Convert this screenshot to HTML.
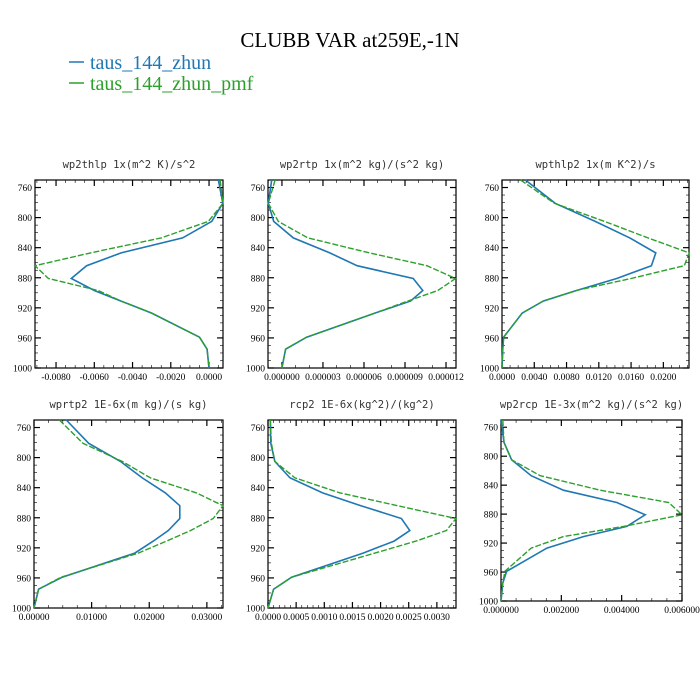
<!DOCTYPE html>
<html><head><meta charset="utf-8">
<style>
body{margin:0;background:#fff;}
svg{display:block;}
.tl{font-family:"Liberation Serif",serif;font-size:9.5px;fill:#000;}
.pt{font-family:"DejaVu Sans Mono","Liberation Mono",monospace;font-size:10.5px;fill:#333;}
</style></head><body>
<svg id="chart" width="700" height="700" viewBox="0 0 700 700" xmlns="http://www.w3.org/2000/svg">
<rect width="700" height="700" fill="#fff"/>
<text x="350" y="47" text-anchor="middle" font-family="Liberation Serif, serif" font-size="21">CLUBB VAR at259E,-1N</text>
<g>
<line x1="69" y1="62" x2="84" y2="62" stroke="#1f77b4" stroke-width="1.5"/>
<text x="90" y="69" font-family="Liberation Serif, serif" font-size="20" fill="#1f77b4">taus_144_zhun</text>
<line x1="69" y1="83" x2="84" y2="83" stroke="#2ca02c" stroke-width="1.5"/>
<text x="90" y="90" font-family="Liberation Serif, serif" font-size="20" fill="#2ca02c">taus_144_zhun_pmf</text>
</g>
</svg>
<script>
const levels = [750,781,805,827,847,864,881,897,911,927,959,975,1000];
const titles = ["wp2thlp  1x(m^2 K)/s^2","wp2rtp  1x(m^2 kg)/(s^2 kg)","wpthlp2  1x(m K^2)/s","wprtp2  1E-6x(m kg)/(s kg)","rcp2  1E-6x(kg^2)/(kg^2)","wp2rcp  1E-3x(m^2 kg)/(s^2 kg)"];
const blueWp2thlp = [0.00049,0.00072,0.00014,-0.00138,-0.0046,-0.0064,-0.0072,-0.0060,-0.0046,-0.0030,-0.0005,-0.0001,0.0];
const greenWp2thlp = [0.00058,0.00073,-0.00004,-0.0025,-0.0062,-0.0091,-0.0084,-0.0058,-0.0046,-0.0030,-0.0005,-0.0001,0.0];
const blueWp2rtp = [-0.75e-6,-1.0e-6,-0.6e-6,0.83e-6,3.5e-6,5.5e-6,9.6e-6,10.3e-6,9.4e-6,6.8e-6,1.8e-6,0.27e-6,0];
const greenWp2rtp = [-0.5e-6,-1.0e-6,-0.27e-6,1.9e-6,6.4e-6,10.6e-6,12.7e-6,11.4e-6,9.2e-6,6.8e-6,1.8e-6,0.27e-6,0];
const blueWpthlp2 = [0.0029,0.0066,0.01155,0.01584,0.01906,0.01852,0.01422,0.00924,0.00511,0.0025,0.0002,0.0001,0];
const greenWpthlp2 = [0.0023,0.0065,0.0127,0.0181,0.0232,0.0226,0.0160,0.0092,0.0051,0.0025,0.0002,0.0001,0];
const blueWprtp2 = [0.0056,0.0095,0.0150,0.0188,0.0228,0.0253,0.0253,0.0233,0.0207,0.0175,0.0049,0.0008,0];
const greenWprtp2 = [0.0044,0.0085,0.0153,0.0202,0.0282,0.0328,0.0311,0.0272,0.0230,0.0181,0.0047,0.0008,0];
const blueRcp2 = [0.00004,0.00005,0.00012,0.00039,0.00097,0.00165,0.00237,0.00252,0.00224,0.00169,0.00042,0.0001,0];
const greenRcp2 = [0.00004,0.00006,0.00012,0.00048,0.00128,0.0023,0.00334,0.00317,0.00263,0.0019,0.00042,0.0001,0];
const blueWp2rcp = [0.0,0.0001,0.00035,0.0010,0.00207,0.00384,0.00478,0.00417,0.00273,0.00152,0.00019,0.00006,0];
const greenWp2rcp = [0.00006,0.0001,0.00035,0.0013,0.00329,0.00556,0.0060,0.00406,0.00207,0.0010,0.00013,0.00006,0];
const xTicks = [[-0.008,-0.006,-0.004,-0.002,0],[0,3e-6,6e-6,9e-6,12e-6],[0,0.004,0.008,0.012,0.016,0.02],[0,0.01,0.02,0.03],[0,0.0005,0.001,0.0015,0.002,0.0025,0.003],[0,0.002,0.004,0.006]];
const xTickLabels = [["-0.0080","-0.0060","-0.0040","-0.0020","0.0000"],["0.000000","0.000003","0.000006","0.000009","0.000012"],["0.0000","0.0040","0.0080","0.0120","0.0160","0.0200"],["0.00000","0.01000","0.02000","0.03000"],["0.0000","0.0005","0.0010","0.0015","0.0020","0.0025","0.0030"],["0.000000","0.002000","0.004000","0.006000"]];
const yTicks = [760,800,840,880,920,960,1000];
const panels = [
 {name:"wp2thlp",x0:35,x1:223,y0:180,y1:368,d0:-0.0091,d1:0.00073,minor:0.0005,b:blueWp2thlp,g:greenWp2thlp},
 {name:"wp2rtp",x0:268,x1:456,y0:180,y1:368,d0:-1.02e-6,d1:12.73e-6,minor:1e-6,b:blueWp2rtp,g:greenWp2rtp},
 {name:"wpthlp2",x0:502,x1:689,y0:180,y1:368,d0:0,d1:0.02318,minor:0.001,b:blueWpthlp2,g:greenWpthlp2},
 {name:"wprtp2",x0:34,x1:223,y0:420,y1:608,d0:0,d1:0.0328,minor:0.0025,b:blueWprtp2,g:greenWprtp2},
 {name:"rcp2",x0:268,x1:456,y0:420,y1:608,d0:0,d1:0.00334,minor:0.0001,b:blueRcp2,g:greenRcp2},
 {name:"wp2rcp",x0:501,x1:682,y0:420,y1:601,d0:0,d1:0.006,minor:0.0005,b:blueWp2rcp,g:greenWp2rcp}
];
const NS="http://www.w3.org/2000/svg";
const svg=document.getElementById('chart');
function mk(tag,attrs,parent){const e=document.createElementNS(NS,tag);for(const k in attrs)e.setAttribute(k,attrs[k]);parent.appendChild(e);return e;}
panels.forEach((P,i)=>{
 const g=mk('g',{},svg);
 
 
 const xs=v=>P.x0+(v-P.d0)/(P.d1-P.d0)*(P.x1-P.x0);
 const ys=p=>P.y0+(p-750)/250*(P.y1-P.y0);
 const t=mk('text',{x:(P.x0+P.x1)/2,y:P.y0-12,'text-anchor':'middle',class:'pt'},g);
 t.textContent=titles[i];
 
 
 // minor y ticks
 for(let p=760;p<=1000;p+=10){const y=ys(p);const maj=(p-760)%40===0;const L=maj?6:3;
  const a=mk('line',{x1:P.x0,x2:P.x0+L,y1:y,y2:y,stroke:'#000','stroke-width':maj?1.2:0.6},g);
  
  const b=mk('line',{x1:P.x1,x2:P.x1-L,y1:y,y2:y,stroke:'#000','stroke-width':maj?1.2:0.6},g);
  }
 yTicks.forEach(p=>{const tx=mk('text',{x:P.x0-3,y:ys(p)+3.5,'text-anchor':'end',class:'tl'},g);tx.textContent=p;
  });
 // x minor ticks
 const st=Math.ceil(P.d0/P.minor);
 for(let k=st;k*P.minor<=P.d1+1e-12;k++){const x=xs(k*P.minor);
  const a=mk('line',{x1:x,x2:x,y1:P.y1,y2:P.y1-3,stroke:'#000','stroke-width':0.6},g);
  
  const b=mk('line',{x1:x,x2:x,y1:P.y0,y2:P.y0+3,stroke:'#000','stroke-width':0.6},g);
  }
 xTicks[i].forEach((v,j)=>{const x=xs(v);
  const a=mk('line',{x1:x,x2:x,y1:P.y1,y2:P.y1-6,stroke:'#000','stroke-width':1.2},g);
  
  const b=mk('line',{x1:x,x2:x,y1:P.y0,y2:P.y0+6,stroke:'#000','stroke-width':1.2},g);
  
  const tx=mk('text',{x:x,y:P.y1+12,'text-anchor':'middle',class:'tl','font-size':(i===1||i===5)?'8.5px':'9.5px'},g);
  tx.textContent=xTickLabels[i][j];
  });
 const fr=mk('rect',{x:P.x0,y:P.y0,width:P.x1-P.x0,height:P.y1-P.y0,fill:'none',stroke:'#000','stroke-width':1.2},g);
 
 const pb=mk('polyline',{points:levels.map((p,k)=>xs(P.b[k]).toFixed(1)+','+ys(p).toFixed(1)).join(' '),fill:'none',stroke:'#1f77b4','stroke-width':1.6},g);
 
 const pg=mk('polyline',{points:levels.map((p,k)=>xs(P.g[k]).toFixed(1)+','+ys(p).toFixed(1)).join(' '),fill:'none',stroke:'#2ca02c','stroke-width':1.4,'stroke-dasharray':'6,2'},g);
 
});
</script>
</body></html>
